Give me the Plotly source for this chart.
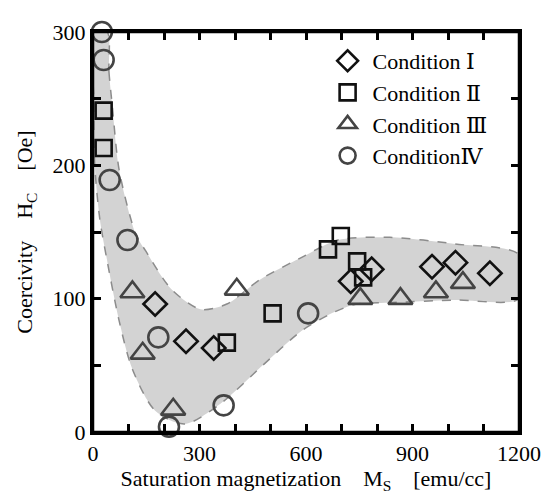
import plotly.graph_objects as go

# ---- data ----
cond1_x = [175, 262, 340, 726, 785, 955, 1021, 1118]
cond1_y = [96, 68, 63, 113, 122, 124, 127, 119]

cond2_x = [30, 30, 377, 506, 662, 698, 744, 761]
cond2_y = [241, 213, 67, 89, 137, 147, 128, 116]

cond3_x = [111, 140, 226, 405, 753, 866, 966, 1042]
cond3_y = [105, 59, 17, 107, 100, 100, 105, 112]

cond4_x = [25, 30, 47, 97, 184, 214, 368, 606]
cond4_y = [300, 279, 189, 144, 71, 4, 20, 89]

band_upper_x = [40, 45, 55, 74, 121, 148, 221, 303, 377, 469, 588, 690, 836, 1020, 1200]
band_upper_y = [300, 270, 243, 196, 148, 136, 107, 92, 96, 114, 131, 144, 146, 141, 133]
band_lower_x = [1200, 1020, 834, 743, 680, 588, 478, 358, 258, 175, 111, 74, 38, 19, 5, 2, 3]
band_lower_y = [100, 99, 97, 96, 90, 76, 50, 21, 6, 16, 47, 83, 131, 160, 200, 250, 300]

x_tickvals = [0, 100, 200, 300, 400, 500, 600, 700, 800, 900, 1000, 1100, 1200]
x_ticktext = ["0", "", "", "300", "", "", "600", "", "", "900", "", "", "1200"]
y_tickvals = [0, 50, 100, 150, 200, 250, 300]
y_ticktext = ["0", "", "100", "", "200", "", "300"]

labels = ["Condition Ⅰ", "Condition Ⅱ", "Condition Ⅲ", "ConditionⅣ"]

FONT = "Liberation Serif, DejaVu Serif, serif"

fig = go.Figure()

fig.add_trace(go.Scatter(
    x=band_upper_x + band_lower_x + [band_upper_x[0]],
    y=band_upper_y + band_lower_y + [band_upper_y[0]],
    mode="lines", fill="toself", fillcolor="#d3d3d3",
    line=dict(color="#8c8c8c", width=1.5, dash="dash", shape="spline", smoothing=0.8),
    showlegend=False, hoverinfo="skip"))

series = [
    (cond1_x, cond1_y, "diamond-open", 18, "#111111"),
    (cond2_x, cond2_y, "square-open", 16, "#111111"),
    (cond3_x, cond3_y, "triangle-up-open", 21, "#444444"),
    (cond4_x, cond4_y, "circle-open", 20, "#444444"),
]
for i, (xs, ys, sym, sz, col) in enumerate(series):
    fig.add_trace(go.Scatter(
        x=xs, y=ys, mode="markers", name=labels[i], legendgroup=f"g{i}",
        marker=dict(symbol=sym, size=sz, color=col, line=dict(width=2.6, color=col)),
        cliponaxis=False))

def axis_style():
    return dict(
        showgrid=False, zeroline=False, showline=True, linecolor="black", linewidth=3,
        mirror="ticks", ticks="inside", ticklen=8, tickwidth=3, tickcolor="black",
        tickfont=dict(family=FONT, size=22, color="black"),
    )

fig.update_xaxes(range=[0, 1200], tickmode="array", tickvals=x_tickvals, ticktext=x_ticktext,
                 title=dict(text="Saturation magnetization    M<sub>S</sub>    [emu/cc]",
                            font=dict(family=FONT, size=22, color="black"), standoff=6),
                 **axis_style())
fig.update_yaxes(range=[0, 300], tickmode="array", tickvals=y_tickvals, ticktext=y_ticktext,
                 title=dict(text="Coercivity    H<sub>C</sub>    [Oe]",
                            font=dict(family=FONT, size=22, color="black"), standoff=14),
                 **axis_style())

# plot frame drawn as a shape as well
fig.add_shape(type="rect", xref="paper", yref="paper", x0=0, y0=0, x1=1, y1=1,
              line=dict(color="black", width=2.5), layer="above")

# page body has an 8px margin: shrink figure so the plot lands where the reference has it
fig.update_layout(
    width=545, height=492,
    margin=dict(l=85, r=24, t=14, b=61),
    plot_bgcolor="white", paper_bgcolor="white",
    font=dict(family=FONT, size=22, color="black"),
    legend=dict(x=0.539, y=0.98, xanchor="left", yanchor="top", itemwidth=40,
                bgcolor="rgba(0,0,0,0)", tracegroupgap=0,
                font=dict(family=FONT, size=22, color="black")),
)

fig.write_html("out.html")
